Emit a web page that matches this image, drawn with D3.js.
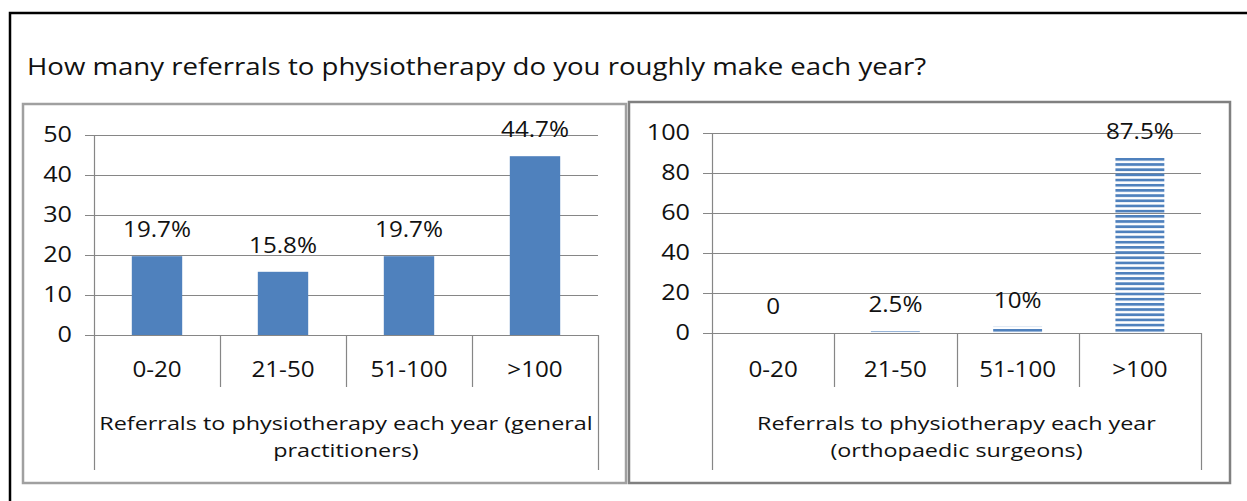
<!DOCTYPE html>
<html>
<head>
<meta charset="utf-8">
<script src="https://cdn.jsdelivr.net/npm/d3@7"></script>
<style>
  body { margin: 0; background: #fff; }
  text { font-family: "Open Sans", "Noto Sans", sans-serif; fill: #111; }
</style>
</head>
<body>
<div id="chart"></div>
<script>
// values
var categories = ["0-20", "21-50", "51-100", ">100"];
var gpValues = [19.7, 15.8, 19.7, 44.7];
var gpLabels = ["19.7%", "15.8%", "19.7%", "44.7%"];
var gpTicks = [0, 10, 20, 30, 40, 50];
var gpTitle = ["Referrals to physiotherapy each year (general", "practitioners)"];

// the surgeon bars are drawn shorter than their labels in the original
var surgeonValues = [0, 1, 3.2, 87.5];
var surgeonLabels = ["0", "2.5%", "10%", "87.5%"];
var surgeonTicks = [0, 20, 40, 60, 80, 100];
var surgeonTitle = ["Referrals to physiotherapy each year", "(orthopaedic surgeons)"];

var question = "How many referrals to physiotherapy do you roughly make each year?";

var W = 1247, H = 501;
var blue = "#4f81bd", grey = "#868686";

var svg = d3.select("#chart").append("svg")
    .attr("width", W)
    .attr("height", H);

svg.append("rect").attr("width", W).attr("height", H).attr("fill", "#fff");

// black frame, only top and left show
svg.append("path")
    .attr("d", "M10," + H + "V13H" + W)
    .attr("fill", "none")
    .attr("stroke", "#000")
    .attr("stroke-width", 2.5);

// the original font is wider than anything installed, so text is stretched a bit
function label(parent, x, y, str, size, sx, anchor) {
    return parent.append("text")
        .attr("transform", "translate(" + x + "," + y + ") scale(" + sx + ",1)")
        .attr("text-anchor", anchor || "start")
        .attr("font-size", size)
        .text(str);
}

label(svg, 27, 75, question, 23, 1.2);

var defs = svg.append("defs");

function drawPanel(opt) {
    var g = svg.append("g");

    g.append("rect")
        .attr("x", opt.box[0]).attr("y", opt.box[1])
        .attr("width", opt.box[2] - opt.box[0])
        .attr("height", opt.box[3] - opt.box[1])
        .attr("fill", "#fff")
        .attr("stroke", opt.border)
        .attr("stroke-width", 2.5);

    var x = d3.scaleBand()
        .domain(categories)
        .range([opt.left, opt.right])
        .paddingInner(0.6)
        .paddingOuter(0.3);
    var xEdge = d3.scaleBand().domain(categories).range([opt.left, opt.right]);

    var y = d3.scaleLinear()
        .domain([0, d3.max(opt.ticks)])
        .range([opt.bottom, opt.top]);

    // gridlines
    g.selectAll(".grid")
        .data(opt.ticks)
        .enter().append("line")
        .attr("x1", opt.left - 9)
        .attr("x2", opt.right)
        .attr("y1", function(d) { return Math.round(y(d)) + 0.5; })
        .attr("y2", function(d) { return Math.round(y(d)) + 0.5; })
        .attr("stroke", grey)
        .attr("stroke-width", 1.2);

    // y axis labels
    var yAxis = d3.axisLeft(y).tickValues(opt.ticks).tickSize(0).tickPadding(0);
    var ay = g.append("g")
        .attr("transform", "translate(" + (opt.left - 22) + ",0)")
        .call(yAxis);
    ay.select(".domain").remove();
    ay.selectAll("text")
        .attr("x", 0)
        .attr("transform", "scale(1.2,1)")
        .attr("font-size", 21)
        .attr("font-family", "Open Sans")
        .attr("fill", "#111");

    // category dividers
    var edges = categories.map(function(c) { return xEdge(c); }).concat([opt.right]);
    g.selectAll(".divider")
        .data(edges)
        .enter().append("line")
        .attr("x1", function(d) { return Math.round(d) + 0.5; })
        .attr("x2", function(d) { return Math.round(d) + 0.5; })
        .attr("y1", function(d, i) { return i == 0 ? opt.top : opt.bottom; })
        .attr("y2", function(d, i) { return (i == 0 || i == edges.length - 1) ? 470 : 387; })
        .attr("stroke", grey)
        .attr("stroke-width", 1.2);

    // bars
    g.selectAll(".bar")
        .data(opt.values)
        .enter().append("rect")
        .attr("x", function(d, i) { return x(categories[i]); })
        .attr("width", x.bandwidth())
        .attr("y", function(d) { return y(d); })
        .attr("height", function(d) { return opt.bottom - y(d); })
        .attr("fill", opt.fill);

    // value labels
    opt.values.forEach(function(d, i) {
        label(g, x(categories[i]) + x.bandwidth() / 2, y(d) - 19, opt.labels[i], 22, 1.1, "middle");
    });

    // category names
    categories.forEach(function(c) {
        label(g, xEdge(c) + xEdge.bandwidth() / 2, 377, c, 22, 1.1, "middle");
    });

    // axis title, two lines
    opt.title.forEach(function(t, i) {
        label(g, (opt.left + opt.right) / 2, 430 + i * 27, t, 19, 1.23, "middle");
    });

    return y;
}

drawPanel({
    box: [23, 104, 626, 483], border: "#a0a0a0",
    left: 94, right: 598, top: 135, bottom: 335,
    values: gpValues, labels: gpLabels, ticks: gpTicks, title: gpTitle,
    fill: blue
});

// striped fill for the second chart, lined up with the top of the tall bar
var ySurg = d3.scaleLinear().domain([0, d3.max(surgeonTicks)]).range([333, 133]);
var pattern = defs.append("pattern")
    .attr("id", "stripes")
    .attr("patternUnits", "userSpaceOnUse")
    .attr("width", 10)
    .attr("height", 5.18)
    .attr("patternTransform", "translate(0," + ySurg(d3.max(surgeonValues)) + ")");
pattern.append("rect")
    .attr("width", 10)
    .attr("height", 2.7)
    .attr("fill", blue);

drawPanel({
    box: [629, 102, 1230, 483], border: "#808080",
    left: 712, right: 1201, top: 133, bottom: 333,
    values: surgeonValues, labels: surgeonLabels, ticks: surgeonTicks, title: surgeonTitle,
    fill: "url(#stripes)"
});
</script>
</body>
</html>
